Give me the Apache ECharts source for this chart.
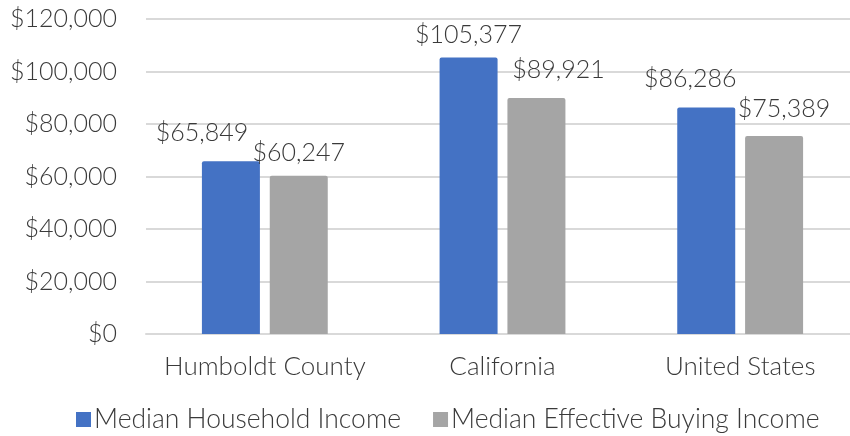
<!DOCTYPE html>
<html>
<head>
<meta charset="utf-8">
<script src="https://cdn.jsdelivr.net/npm/echarts@6/dist/echarts.min.js"></script>
<style>html,body{margin:0;padding:0;background:#fff;overflow:hidden}#c{width:859px;height:436px}</style>
</head>
<body>
<div id="c"></div>
<script>
var categories = ['Humboldt County', 'California', 'United States'];
var householdIncome = [65849, 105377, 86286];
var buyingIncome = [60247, 89921, 75389];
var seriesNames = ['Median Household Income', 'Median Effective Buying Income'];
var yTicks = [0, 20000, 40000, 60000, 80000, 100000, 120000];

var hhOffsets = [[-29, -6], [0, 0], [-16, -6]];
var ebOffsets = [[0, 0], [22, -6], [10, -5]];

var FONT = 'Lato';
var FW = 300;
var FS = 25;
var TXT = '#3a3a3a';
function money(v) { return '$' + Math.round(v).toString().replace(/\B(?=(\d{3})+(?!\d))/g, ','); }

function mk(vals, offs) {
  return vals.map(function (v, i) {
    return { value: v, label: { offset: offs[i] } };
  });
}

var chart = echarts.init(document.getElementById('c'), null, { renderer: 'canvas' });
chart.setOption({
  animation: false,
  textStyle: { fontFamily: FONT },
  grid: { left: 146, right: 0, top: 19, bottom: 102, containLabel: false },
  legend: {
    bottom: -2, left: 71,
    itemWidth: 15, itemHeight: 15, itemGap: 32,
    icon: 'rect',
    textStyle: { fontFamily: FONT, fontWeight: FW, fontSize: 26.5, color: TXT, padding: [0, 0, 0, -2] },
    data: seriesNames
  },
  xAxis: {
    type: 'category', data: categories,
    axisLine: { lineStyle: { color: '#d9d9d9', width: 2 } },
    axisTick: { show: false },
    axisLabel: { fontFamily: FONT, fontWeight: FW, fontSize: 26, color: TXT, margin: 20, interval: 0 }
  },
  yAxis: {
    type: 'value', min: yTicks[0], max: yTicks[yTicks.length - 1], interval: yTicks[1] - yTicks[0],
    axisLine: { show: false }, axisTick: { show: false },
    splitLine: { lineStyle: { color: '#d9d9d9', width: 2 } },
    axisLabel: { fontFamily: FONT, fontWeight: FW, fontSize: FS, color: TXT, margin: 29, formatter: money }
  },
  series: [
    {
      name: seriesNames[0], type: 'bar', data: mk(householdIncome, hhOffsets),
      barWidth: '24.4%', barGap: '17%',
      itemStyle: { color: '#4472C4', borderRadius: [2, 2, 0, 0] },
      label: { show: true, position: 'top', distance: 10, fontFamily: FONT, fontWeight: FW, fontSize: FS, color: TXT, formatter: function (p) { return money(p.value); } }
    },
    {
      name: seriesNames[1], type: 'bar', data: mk(buyingIncome, ebOffsets),
      barWidth: '24.4%', barGap: '17%',
      itemStyle: { color: '#A5A5A5', borderRadius: [2, 2, 0, 0] },
      label: { show: true, position: 'top', distance: 10, fontFamily: FONT, fontWeight: FW, fontSize: FS, color: TXT, formatter: function (p) { return money(p.value); } }
    }
  ]
});
</script>
</body>
</html>
